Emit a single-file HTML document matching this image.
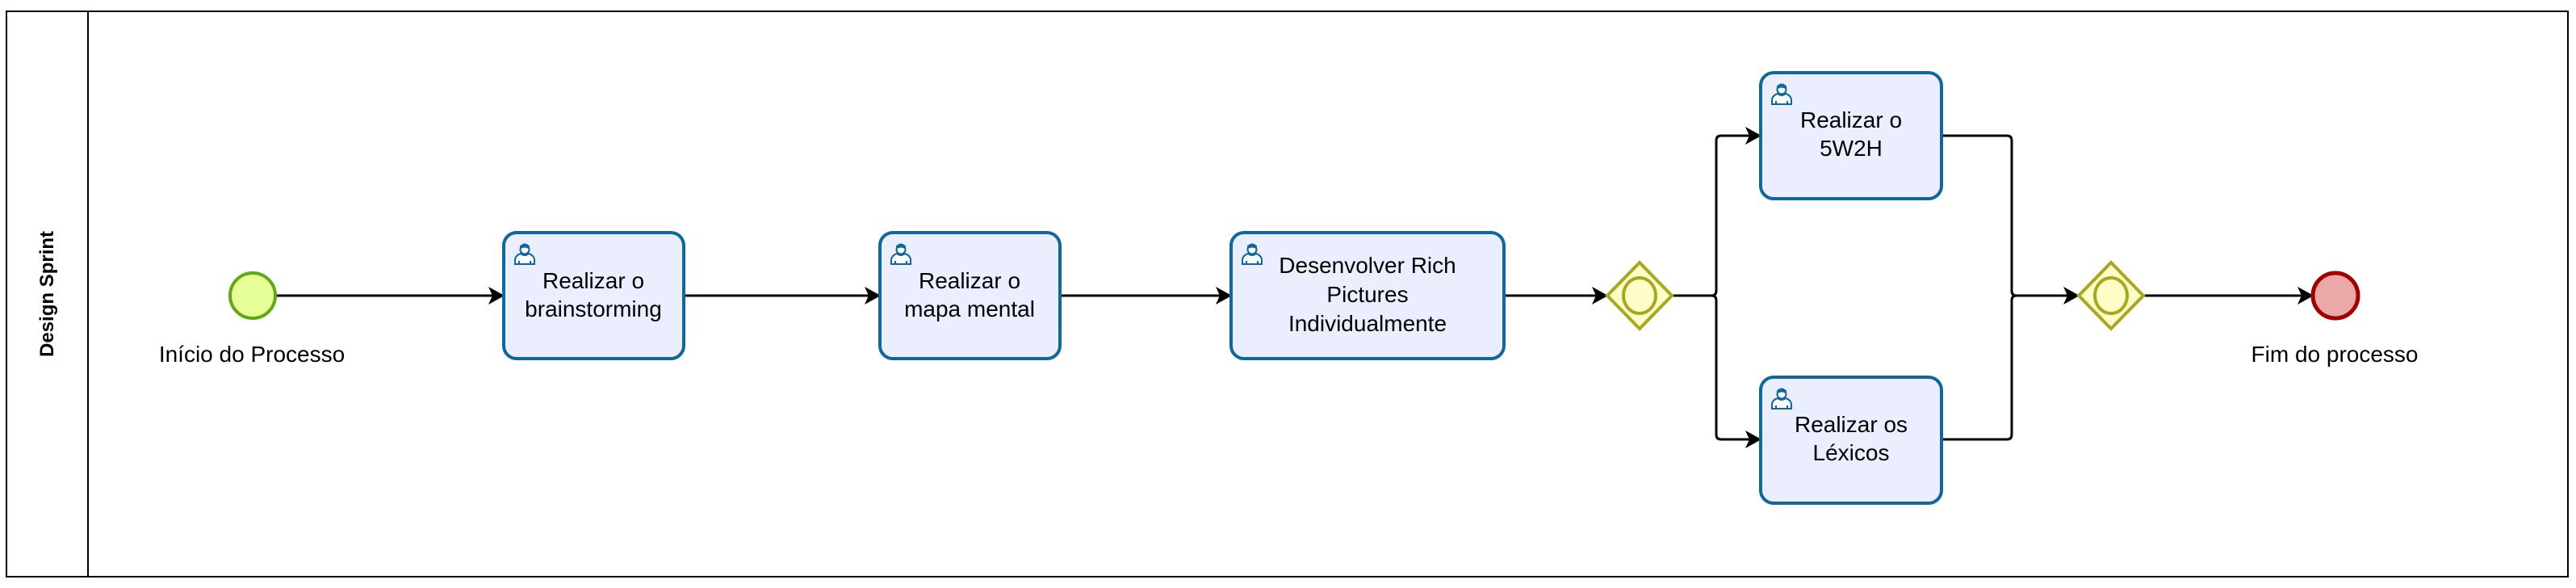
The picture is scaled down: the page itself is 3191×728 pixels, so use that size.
<!DOCTYPE html>
<html><head><meta charset="utf-8"><style>
html,body{margin:0;padding:0;background:#fff;}
svg{display:block;}
text{font-family:"Liberation Sans",sans-serif;fill:#000;}
</style></head><body>
<svg width="3191" height="728" viewBox="0 0 3191 728" xmlns="http://www.w3.org/2000/svg">
<defs>
<marker id="a" markerWidth="20" markerHeight="22" refX="19" refY="11" orient="auto" markerUnits="userSpaceOnUse">
<path d="M0,0 L20,11 L0,22 L5,11 Z" fill="#000"/></marker>
<g id="p" fill="none" stroke="#10679c" stroke-width="2">
<circle cx="13" cy="8" r="5.5" fill="#fff"/>
<path d="M8,4 Q13,-1 18,4 L18,6 Q13,3 8,6 Z" fill="#10679c"/>
<path d="M1,26 L1,20 Q2,15 8,13 Q13,17 18,13 Q24,15 25,20 L25,26 Z" fill="#fff"/>
<path d="M6,22 L6,26 M20,22 L20,26"/>
</g>
</defs>
<rect x="8" y="14" width="3173" height="700" fill="#fff" stroke="#000" stroke-width="2"/>
<line x1="109" y1="14" x2="109" y2="714" stroke="#000" stroke-width="2"/>
<text x="0" y="0" font-size="24" font-weight="bold" text-anchor="middle" transform="translate(66,364) rotate(-90)">Design Sprint</text>

<g stroke="#000" stroke-width="3" fill="none">
<line x1="342" y1="366" x2="624" y2="366" marker-end="url(#a)"/>
<line x1="847" y1="366" x2="1090" y2="366" marker-end="url(#a)"/>
<line x1="1313" y1="366" x2="1525" y2="366" marker-end="url(#a)"/>
<line x1="1863" y1="366" x2="1991" y2="366" marker-end="url(#a)"/>
<path d="M2072,366 L2120,366 Q2126,366 2126,360 L2126,174 Q2126,168 2132,168 L2181,168" marker-end="url(#a)"/>
<path d="M2120,366 Q2126,366 2126,372 L2126,538 Q2126,544 2132,544 L2181,544" marker-end="url(#a)"/>
<path d="M2405,168 L2486,168 Q2492,168 2492,174 L2492,360 Q2492,366 2498,366 L2575,366" marker-end="url(#a)"/>
<path d="M2405,544 L2486,544 Q2492,544 2492,538 L2492,372 Q2492,366 2498,366"/>
<line x1="2656" y1="366" x2="2865" y2="366" marker-end="url(#a)"/>
</g>

<circle cx="313" cy="366" r="28" fill="#e6ff97" stroke="#62a716" stroke-width="4"/>
<text x="312" y="448" font-size="28" text-anchor="middle">Início do Processo</text>

<g fill="#eaeefe" stroke="#10679c" stroke-width="4">
<rect x="624" y="288" width="223" height="156" rx="16"/>
<rect x="1090" y="288" width="223" height="156" rx="16"/>
<rect x="1525" y="288" width="338" height="156" rx="16"/>
<rect x="2181" y="90" width="224" height="156" rx="16"/>
<rect x="2181" y="467" width="224" height="156" rx="16"/>
</g>
<use href="#p" x="637" y="301"/>
<use href="#p" x="1103" y="301"/>
<use href="#p" x="1538" y="301"/>
<use href="#p" x="2194" y="103"/>
<use href="#p" x="2194" y="480"/>

<g font-size="28" text-anchor="middle">
<text x="735" y="357">Realizar o</text>
<text x="735" y="392">brainstorming</text>
<text x="1201" y="357">Realizar o</text>
<text x="1201" y="392">mapa mental</text>
<text x="1694" y="338">Desenvolver Rich</text>
<text x="1694" y="374">Pictures</text>
<text x="1694" y="410">Individualmente</text>
<text x="2293" y="158">Realizar o</text>
<text x="2293" y="193">5W2H</text>
<text x="2293" y="535">Realizar os</text>
<text x="2293" y="570">Léxicos</text>
</g>

<g fill="#fdfdc8" stroke="#a8a820" stroke-width="4">
<polygon points="2031,325 2071,366 2031,407 1991,366"/>
<ellipse cx="2031" cy="366" rx="20" ry="22"/>
<polygon points="2615,325 2655,366 2615,407 2575,366"/>
<ellipse cx="2615" cy="366" rx="20" ry="22"/>
</g>

<circle cx="2893" cy="366" r="28" fill="#eba8a8" stroke="#a00000" stroke-width="5"/>
<text x="2892" y="448" font-size="28" text-anchor="middle">Fim do processo</text>
</svg>
</body></html>
